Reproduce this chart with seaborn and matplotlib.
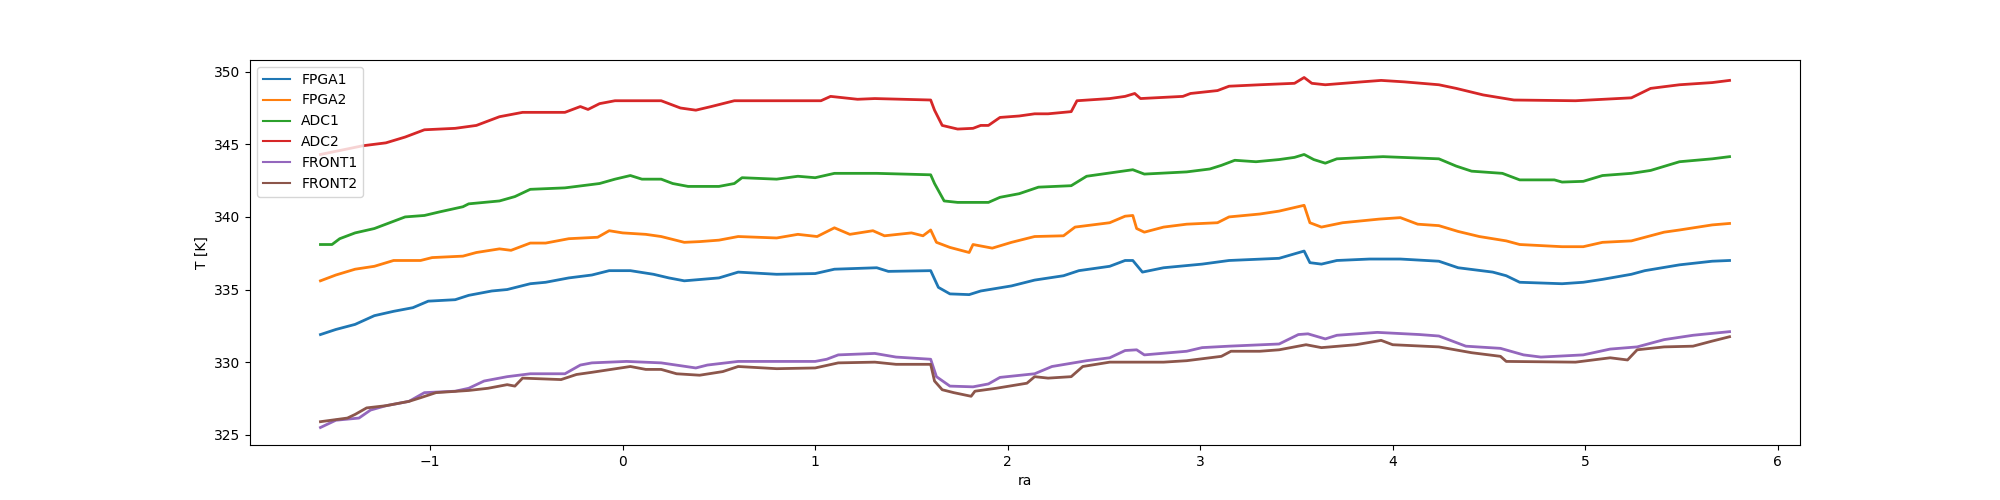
import pandas as pd
import matplotlib
matplotlib.use("Agg")
import matplotlib.pyplot as plt
import seaborn as sns

# ==================================================
# DATA
# ==================================================
ra_fpga1 = [-1.57, -1.49, -1.39, -1.29, -1.19, -1.09, -1.01, -0.87, -0.80, -0.68, -0.60, -0.48, -0.40,
            -0.28, -0.16, -0.07, 0.04, 0.16, 0.24, 0.32, 0.50, 0.60, 0.80, 1.00, 1.10, 1.32, 1.38, 1.60,
            1.64, 1.70, 1.80, 1.86, 2.02, 2.14, 2.29, 2.37, 2.53, 2.61, 2.65, 2.70, 2.81, 3.01, 3.15,
            3.41, 3.54, 3.57, 3.63, 3.71, 3.88, 4.04, 4.24, 4.34, 4.52, 4.59, 4.66, 4.88, 4.99, 5.09,
            5.24, 5.31, 5.49, 5.66, 5.75]
t_fpga1 = [331.9, 332.25, 332.6, 333.2, 333.5, 333.75, 334.2, 334.3, 334.6, 334.9, 335.0, 335.4, 335.5,
           335.8, 336.0, 336.3, 336.3, 336.05, 335.8, 335.6, 335.8, 336.2, 336.05, 336.1, 336.4, 336.5,
           336.25, 336.3, 335.15, 334.7, 334.65, 334.9, 335.25, 335.65, 335.95, 336.3, 336.6, 337.0,
           337.0, 336.2, 336.5, 336.75, 337.0, 337.15, 337.65, 336.85, 336.75, 337.0, 337.1, 337.1,
           336.95, 336.5, 336.2, 335.95, 335.5, 335.4, 335.5, 335.7, 336.05, 336.3, 336.7, 336.95, 337.0]

ra_fpga2 = [-1.57, -1.49, -1.39, -1.29, -1.19, -1.05, -0.99, -0.83, -0.76, -0.64, -0.58, -0.48, -0.40,
            -0.28, -0.13, -0.07, 0.00, 0.12, 0.20, 0.32, 0.40, 0.50, 0.60, 0.80, 0.91, 1.01, 1.10, 1.18,
            1.30, 1.36, 1.50, 1.56, 1.60, 1.63, 1.70, 1.80, 1.82, 1.92, 2.02, 2.14, 2.29, 2.35, 2.53,
            2.61, 2.65, 2.67, 2.71, 2.81, 2.93, 3.09, 3.15, 3.31, 3.41, 3.54, 3.57, 3.63, 3.74, 3.93,
            4.04, 4.13, 4.24, 4.34, 4.45, 4.59, 4.66, 4.88, 4.99, 5.09, 5.24, 5.41, 5.49, 5.66, 5.75]
t_fpga2 = [335.6, 336.0, 336.4, 336.6, 337.0, 337.0, 337.2, 337.3, 337.55, 337.8, 337.7, 338.2, 338.2,
           338.5, 338.6, 339.05, 338.9, 338.8, 338.65, 338.25, 338.3, 338.4, 338.65, 338.55, 338.8,
           338.65, 339.25, 338.8, 339.05, 338.7, 338.9, 338.7, 339.1, 338.25, 337.9, 337.55, 338.1,
           337.85, 338.25, 338.65, 338.7, 339.3, 339.6, 340.05, 340.1, 339.2, 338.95, 339.3, 339.5,
           339.6, 340.0, 340.2, 340.4, 340.8, 339.6, 339.3, 339.6, 339.85, 339.95, 339.5, 339.4, 339.0,
           338.65, 338.35, 338.1, 337.95, 337.95, 338.25, 338.35, 338.95, 339.1, 339.45, 339.55]

ra_adc1 = [-1.57, -1.51, -1.47, -1.39, -1.29, -1.23, -1.13, -1.03, -0.95, -0.83, -0.80, -0.64, -0.56,
           -0.48, -0.30, -0.12, -0.04, 0.04, 0.10, 0.20, 0.26, 0.34, 0.50, 0.58, 0.62, 0.80, 0.91, 1.00,
           1.10, 1.32, 1.60, 1.62, 1.67, 1.74, 1.90, 1.96, 2.06, 2.16, 2.33, 2.41, 2.57, 2.65, 2.71,
           2.93, 3.05, 3.11, 3.18, 3.29, 3.41, 3.49, 3.54, 3.59, 3.65, 3.71, 3.95, 4.24, 4.33, 4.41,
           4.57, 4.66, 4.84, 4.88, 4.99, 5.09, 5.24, 5.34, 5.49, 5.66, 5.75]
t_adc1 = [338.1, 338.1, 338.5, 338.9, 339.2, 339.5, 340.0, 340.1, 340.35, 340.7, 340.9, 341.1, 341.4,
          341.9, 342.0, 342.3, 342.6, 342.85, 342.6, 342.6, 342.3, 342.1, 342.1, 342.3, 342.7, 342.6,
          342.8, 342.7, 343.0, 343.0, 342.9, 342.3, 341.1, 341.0, 341.0, 341.35, 341.6, 342.05, 342.15,
          342.8, 343.1, 343.25, 342.95, 343.1, 343.3, 343.55, 343.9, 343.8, 343.95, 344.1, 344.3,
          343.95, 343.7, 344.0, 344.15, 344.0, 343.5, 343.15, 343.0, 342.55, 342.55, 342.4, 342.45,
          342.85, 343.0, 343.2, 343.8, 344.0, 344.15]

ra_adc2 = [-1.57, -1.35, -1.23, -1.13, -1.03, -0.87, -0.76, -0.64, -0.52, -0.30, -0.22, -0.18, -0.12,
           -0.04, 0.20, 0.30, 0.38, 0.46, 0.58, 0.80, 1.03, 1.08, 1.22, 1.31, 1.60, 1.62, 1.66, 1.74,
           1.82, 1.86, 1.90, 1.96, 2.06, 2.14, 2.21, 2.33, 2.36, 2.53, 2.61, 2.66, 2.69, 2.91, 2.95,
           3.09, 3.15, 3.31, 3.49, 3.54, 3.58, 3.65, 3.84, 3.94, 4.06, 4.24, 4.33, 4.47, 4.63, 4.95,
           5.24, 5.34, 5.49, 5.66, 5.75]
t_adc2 = [344.3, 344.9, 345.1, 345.5, 346.0, 346.1, 346.3, 346.9, 347.2, 347.2, 347.6, 347.4, 347.8,
          348.0, 348.0, 347.5, 347.35, 347.6, 348.0, 348.0, 348.0, 348.3, 348.1, 348.15, 348.05, 347.35,
          346.3, 346.05, 346.1, 346.3, 346.3, 346.85, 346.95, 347.1, 347.1, 347.25, 348.0, 348.15,
          348.3, 348.5, 348.15, 348.3, 348.5, 348.7, 349.0, 349.1, 349.2, 349.6, 349.2, 349.1, 349.3,
          349.4, 349.3, 349.1, 348.85, 348.4, 348.05, 348.0, 348.2, 348.85, 349.1, 349.25, 349.4]

ra_front1 = [-1.57, -1.49, -1.37, -1.31, -1.23, -1.11, -1.03, -0.87, -0.80, -0.72, -0.60, -0.48, -0.30,
             -0.22, -0.16, 0.02, 0.20, 0.38, 0.44, 0.60, 1.00, 1.06, 1.12, 1.31, 1.42, 1.60, 1.63, 1.70,
             1.82, 1.90, 1.96, 2.14, 2.23, 2.41, 2.53, 2.61, 2.67, 2.71, 2.93, 3.01, 3.15, 3.41, 3.51,
             3.56, 3.65, 3.71, 3.92, 4.14, 4.24, 4.38, 4.56, 4.68, 4.77, 4.99, 5.13, 5.27, 5.41, 5.56,
             5.75]
t_front1 = [325.5, 326.0, 326.15, 326.7, 327.0, 327.3, 327.9, 328.0, 328.2, 328.7, 329.0, 329.2, 329.2,
            329.8, 329.95, 330.05, 329.95, 329.6, 329.8, 330.05, 330.05, 330.2, 330.5, 330.6, 330.35,
            330.2, 329.0, 328.35, 328.3, 328.5, 328.95, 329.2, 329.7, 330.1, 330.3, 330.8, 330.85,
            330.5, 330.75, 331.0, 331.1, 331.25, 331.9, 331.95, 331.6, 331.85, 332.05, 331.9, 331.8,
            331.1, 330.95, 330.5, 330.35, 330.5, 330.9, 331.05, 331.55, 331.85, 332.1]

ra_front2 = [-1.57, -1.43, -1.39, -1.33, -1.23, -1.11, -1.05, -0.97, -0.80, -0.70, -0.60, -0.56, -0.52,
             -0.32, -0.24, -0.16, -0.06, 0.04, 0.12, 0.20, 0.28, 0.40, 0.52, 0.60, 0.80, 1.00, 1.12,
             1.31, 1.42, 1.60, 1.62, 1.66, 1.72, 1.81, 1.83, 1.94, 2.10, 2.14, 2.21, 2.33, 2.39, 2.53,
             2.81, 2.93, 3.11, 3.16, 3.31, 3.41, 3.55, 3.63, 3.81, 3.94, 4.00, 4.24, 4.41, 4.56, 4.59,
             4.95, 5.13, 5.22, 5.27, 5.41, 5.56, 5.66, 5.75]
t_front2 = [325.9, 326.15, 326.4, 326.85, 327.0, 327.3, 327.55, 327.9, 328.05, 328.2, 328.45, 328.35,
            328.9, 328.8, 329.15, 329.3, 329.5, 329.7, 329.5, 329.5, 329.2, 329.1, 329.35, 329.7, 329.55,
            329.6, 329.95, 330.0, 329.85, 329.85, 328.7, 328.1, 327.9, 327.65, 328.0, 328.2, 328.55,
            329.0, 328.9, 329.0, 329.7, 330.0, 330.0, 330.1, 330.4, 330.75, 330.75, 330.85, 331.2,
            331.0, 331.2, 331.5, 331.2, 331.05, 330.65, 330.4, 330.05, 330.0, 330.3, 330.15, 330.85,
            331.05, 331.1, 331.45, 331.75]

sensors = ["FPGA1", "FPGA2", "ADC1", "ADC2", "FRONT1", "FRONT2"]
ra_values = [ra_fpga1, ra_fpga2, ra_adc1, ra_adc2, ra_front1, ra_front2]
t_values = [t_fpga1, t_fpga2, t_adc1, t_adc2, t_front1, t_front2]

# ==================================================
# PLOT
# ==================================================
fig, ax = plt.subplots(figsize=(20, 5), dpi=100)

colors = sns.color_palette("tab10", len(sensors))

for name, ra, t, color in zip(sensors, ra_values, t_values, colors):
    df = pd.DataFrame({"ra": ra, "T": t})
    sns.lineplot(
        data=df,
        x="ra",
        y="T",
        ax=ax,
        color=color,
        label=name,
        estimator=None,
        sort=False,
        linewidth=2.0
    )

ax.set_xlabel("ra")
ax.set_ylabel("T [K]")
leg = ax.legend(loc="upper left")
for line in leg.get_lines():
    line.set_linewidth(1.5)

fig.savefig("out.png", dpi=100)
plt.close(fig)
